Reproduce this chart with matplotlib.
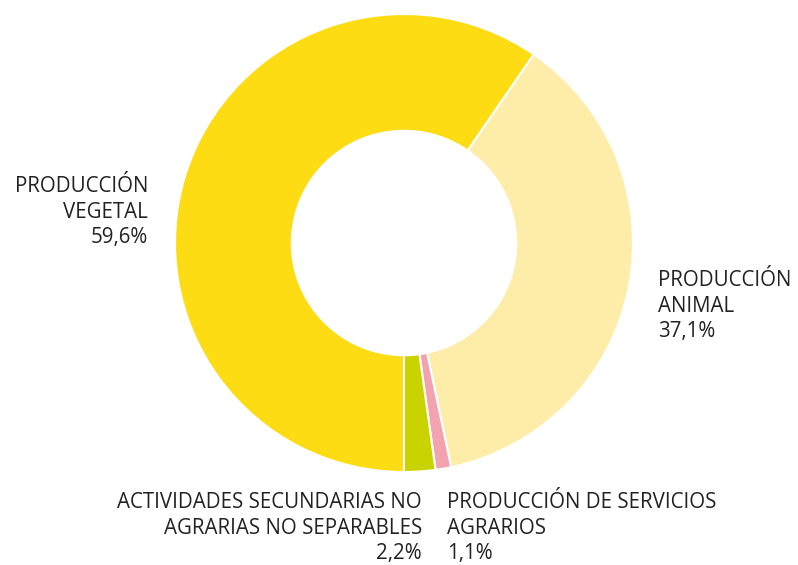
import matplotlib
matplotlib.use("Agg")
import matplotlib.pyplot as plt

# Share of agricultural production
labels = ["PRODUCCIÓN\nVEGETAL\n59,6%", "PRODUCCIÓN\nANIMAL\n37,1%",
          "PRODUCCIÓN DE SERVICIOS\nAGRARIOS\n1,1%",
          "ACTIVIDADES SECUNDARIAS NO\nAGRARIAS NO SEPARABLES\n2,2%"]
values = [59.6, 37.1, 1.1, 2.2]
colors = ["#FDDC14", "#FEEDA8", "#F2A3AF", "#C9D300"]

plt.rcParams['font.family'] = ['Open Sans', 'DejaVu Sans']

W, H = 798, 565
fig = plt.figure(figsize=(W / 100, H / 100), dpi=100)
cx, cy, r = 404, 243, 229
ax = fig.add_axes([(cx - r) / W, (H - cy - r) / H, 2 * r / W, 2 * r / H])

ax.pie(values, colors=colors, startangle=270, counterclock=False, radius=1,
       wedgeprops=dict(width=0.51, edgecolor="white", linewidth=1.5))
ax.set_xlim(-1, 1)
ax.set_ylim(-1, 1)
ax.set_aspect("equal")
ax.axis("off")

txt = dict(fontsize=14.8, color="#222222", linespacing=1.28, va="center")
fig.text(148 / W, 1 - 212 / H, labels[0], ha="right", multialignment="right", **txt)
fig.text(658 / W, 1 - 306 / H, labels[1], ha="left", multialignment="left", **txt)
fig.text(447 / W, 1 - 528 / H, labels[2], ha="left", multialignment="left", **txt)
fig.text(422 / W, 1 - 528 / H, labels[3], ha="right", multialignment="right", **txt)

fig.savefig("out.png", dpi=100, facecolor="white")
